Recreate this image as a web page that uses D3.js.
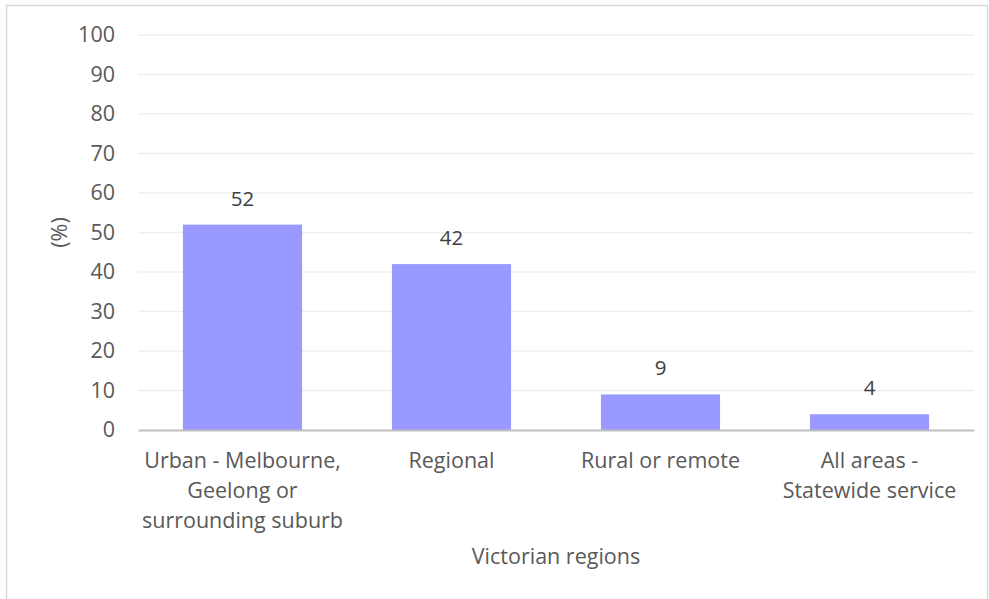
<!DOCTYPE html>
<html>
<head>
<meta charset="utf-8">
<script src="https://cdn.jsdelivr.net/npm/d3@7"></script>
<style>
  html, body { margin: 0; padding: 0; background: #fff; }
  #chart { width: 989px; height: 599px; }
  svg { display: block; font-family: "Open Sans", sans-serif; }
</style>
</head>
<body>
<div id="chart"></div>
<script>
// chart values
const categories = [
  'Urban - Melbourne, Geelong or surrounding suburb',
  'Regional',
  'Rural or remote',
  'All areas - Statewide service',
];
// tick labels as they wrap in the original
const categoryLines = [
  ['Urban - Melbourne,', 'Geelong or', 'surrounding suburb'],
  ['Regional'],
  ['Rural or remote'],
  ['All areas -', 'Statewide service'],
];
const values = [52, 42, 9, 4];
const yTicks = [0, 10, 20, 30, 40, 50, 60, 70, 80, 90, 100];
const xTitle = 'Victorian regions';
const yTitle = '(%)';

const width = 989;
const height = 599;
const margin = { top: 35, right: 15, bottom: 169, left: 138 };
const textColor = '#595959';
const fontSize = '21.5px';

const svg = d3.select('#chart')
  .append('svg')
  .attr('width', width)
  .attr('height', height);

// outer frame
svg.append('rect')
  .attr('x', 6.5)
  .attr('y', 5.5)
  .attr('width', width - 8)
  .attr('height', height + 10)
  .attr('fill', 'none')
  .attr('stroke', '#d9d9d9')
  .attr('stroke-width', 1.5);

const x = d3.scaleBand()
  .domain(categories)
  .range([margin.left, width - margin.right])
  .paddingInner(0.43)
  .paddingOuter(0.215);

const y = d3.scaleLinear()
  .domain([0, 100])
  .range([height - margin.bottom, margin.top]);

// gridlines
svg.append('g')
  .selectAll('line')
  .data(yTicks.filter((t) => t > 0))
  .join('line')
  .attr('x1', margin.left)
  .attr('x2', width - margin.right)
  .attr('y1', (d) => y(d))
  .attr('y2', (d) => y(d))
  .attr('stroke', '#efefef')
  .attr('stroke-width', 1.3);

// y axis labels
const yAxis = svg.append('g')
  .attr('transform', `translate(${margin.left},0)`)
  .call(d3.axisLeft(y).tickValues(yTicks).tickSize(0).tickPadding(23));
yAxis.select('.domain').remove();
yAxis.selectAll('text')
  .attr('fill', textColor)
  .style('font-size', fontSize)
  .style('font-family', '"Open Sans", sans-serif');

// bars
svg.append('g')
  .selectAll('rect')
  .data(values)
  .join('rect')
  .attr('x', (d, i) => x(categories[i]))
  .attr('y', (d) => y(d))
  .attr('width', x.bandwidth())
  .attr('height', (d) => y(0) - y(d))
  .attr('fill', '#9999ff');

// value labels
svg.append('g')
  .selectAll('text')
  .data(values)
  .join('text')
  .attr('x', (d, i) => x(categories[i]) + x.bandwidth() / 2)
  .attr('y', (d) => y(d) - 19)
  .attr('text-anchor', 'middle')
  .attr('fill', '#404040')
  .style('font-size', '20.5px')
  .text((d) => d);

// x axis
const xAxis = svg.append('g')
  .attr('transform', `translate(0,${y(0)})`)
  .call(d3.axisBottom(x).tickSize(0).tickPadding(23));
xAxis.select('.domain')
  .attr('stroke', '#bfbfbf')
  .attr('stroke-width', 2.2);
xAxis.selectAll('text')
  .attr('fill', textColor)
  .style('font-size', fontSize)
  .style('font-family', '"Open Sans", sans-serif')
  .each(function (d) {
    const text = d3.select(this);
    const lines = categoryLines[categories.indexOf(d)];
    const dy = parseFloat(text.attr('dy')) || 0;
    text.text(null);
    text.selectAll('tspan')
      .data(lines)
      .join('tspan')
      .attr('x', 0)
      .attr('dy', (l, i) => (i === 0 ? dy : 1.38) + 'em')
      .text((l) => l);
  });

// axis titles
svg.append('text')
  .attr('x', (margin.left + width - margin.right) / 2)
  .attr('y', 564)
  .attr('text-anchor', 'middle')
  .attr('fill', textColor)
  .style('font-size', fontSize)
  .text(xTitle);

svg.append('text')
  .attr('transform', `translate(67,${y(50)}) rotate(-90)`)
  .attr('text-anchor', 'middle')
  .attr('fill', textColor)
  .style('font-size', fontSize)
  .text(yTitle);
</script>
</body>
</html>
